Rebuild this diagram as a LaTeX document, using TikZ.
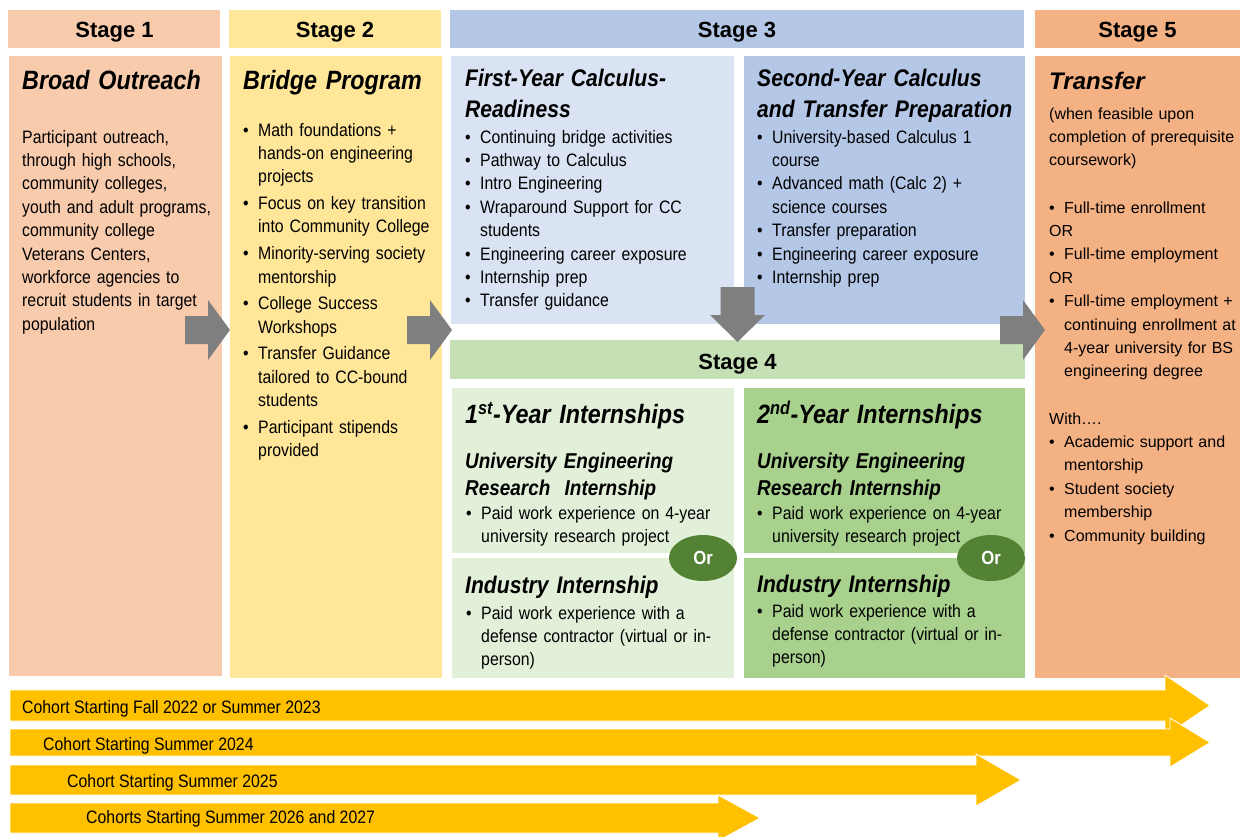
\documentclass[tikz,border=0pt]{standalone}
\usepackage{fontspec}
\setmainfont{Liberation Sans}
\newfontfamily\narrowsans[FakeStretch=0.88]{Liberation Sans}
\usetikzlibrary{shapes.geometric}

\definecolor{outreach}{HTML}{F8CBAD}
\definecolor{bridge}{HTML}{FFE699}
\definecolor{calcdark}{HTML}{B4C7E7}
\definecolor{calclight}{HTML}{DAE3F3}
\definecolor{internhead}{HTML}{C5E0B4}
\definecolor{internlight}{HTML}{E2F0D9}
\definecolor{interndark}{HTML}{A9D18E}
\definecolor{transfer}{HTML}{F4B183}
\definecolor{orgreen}{HTML}{548235}
\definecolor{flowgray}{HTML}{7F7F7F}
\definecolor{cohort}{HTML}{FFC000}

% bullet item, one paragraph with hanging lines
\newcommand\bul[2][15bp]{{\let\\\newline\hangindent=#1\relax\hangafter=1\relax
  \noindent\makebox[#1][l]{\textbullet}#2\par}}

\tikzset{
  panel/.style={anchor=north west, inner sep=0pt, outer sep=0pt},
  stagelabel/.style={anchor=base, inner sep=0pt,
    font=\fontsize{22bp}{26bp}\selectfont\bfseries},
  bigtitle/.style={anchor=base west, inner sep=0pt, align=left, text width=#1,
    font=\narrowsans\fontsize{26.5bp}{31bp}\selectfont\bfseries\itshape},
  bigtitle/.default=220bp,
  midtitle/.style={anchor=base west, inner sep=0pt, align=left, text width=#1,
    font=\narrowsans\fontsize{24bp}{31bp}\selectfont\bfseries\itshape},
  midtitle/.default=265bp,
  subtitle/.style={anchor=base west, inner sep=0pt, align=left, text width=#1,
    font=\narrowsans\fontsize{21.5bp}{27bp}\selectfont\bfseries\itshape},
  subtitle/.default=265bp,
  bodytext/.style={anchor=base west, inner sep=0pt, align=left, text width=#1,
    font=\narrowsans\fontsize{18bp}{23.4bp}\selectfont},
  bodytext/.default=260bp,
  itemgap/.style={execute at begin node={\setlength{\parskip}{#1}}},
  fivetext/.style={anchor=base west, inner sep=0pt, align=left, text width=195bp,
    font=\fontsize{16bp}{23.4bp}\selectfont},
  fivetitle/.style={anchor=base west, inner sep=0pt,
    font=\fontsize{24bp}{28bp}\selectfont\bfseries\itshape},
  cohortlabel/.style={anchor=base west, inner sep=0pt,
    font=\narrowsans\fontsize{18bp}{22bp}\selectfont},
  orbadge/.style={ellipse, fill=orgreen, text=white, inner sep=0pt,
    minimum width=68bp, minimum height=46bp,
    font=\narrowsans\fontsize{19bp}{22bp}\selectfont\bfseries},
  cohortbar/.style={fill=cohort, draw=white, line width=0.8bp},
  flowright/.pic={\fill[flowgray] (0,0) -- (-22,-30) -- (-22,-14) -- (-45,-14)
    -- (-45,14) -- (-22,14) -- (-22,30) -- cycle;},
  flowdown/.pic={\fill[flowgray] (0,0) -- (-27.5,-27) -- (-17,-27) -- (-17,-55)
    -- (17,-55) -- (17,-27) -- (27.5,-27) -- cycle;}
}

\begin{document}
\begin{tikzpicture}[x=1bp, y=-1bp]

	\path[use as bounding box, fill=white] (0,0) rectangle (1243,837);

	% stage panels
	\node[panel, fill=outreach, minimum width=212bp, minimum height=38bp] (s1head) at (8,10) {};
	\node[panel, fill=outreach, minimum width=213bp, minimum height=620bp] (s1body) at (9,56) {};
	\node[panel, fill=bridge, minimum width=212bp, minimum height=38bp] (s2head) at (229,10) {};
	\node[panel, fill=bridge, minimum width=212bp, minimum height=622bp] (s2body) at (230,56) {};
	\node[panel, fill=calcdark, minimum width=574bp, minimum height=38bp] (s3head) at (450,10) {};
	\node[panel, fill=calclight, minimum width=283bp, minimum height=268bp] (s3a) at (451,56) {};
	\node[panel, fill=calcdark, minimum width=281bp, minimum height=268bp] (s3b) at (744,56) {};
	\node[panel, fill=internhead, minimum width=575bp, minimum height=39bp] (s4head) at (450,340) {};
	\node[panel, fill=internlight, minimum width=282bp, minimum height=165bp] (s4a) at (452,388) {};
	\node[panel, fill=internlight, minimum width=282bp, minimum height=120bp] (s4b) at (452,558) {};
	\node[panel, fill=interndark, minimum width=281bp, minimum height=165bp] (s4c) at (744,388) {};
	\node[panel, fill=interndark, minimum width=281bp, minimum height=120bp] (s4d) at (744,558) {};
	\node[panel, fill=transfer, minimum width=205bp, minimum height=38bp] (s5head) at (1035,10) {};
	\node[panel, fill=transfer, minimum width=205bp, minimum height=622bp] (s5body) at (1035,56) {};

	% stage labels
	\node[stagelabel] (s1lab) at (114.5,37) {Stage 1};
	\node[stagelabel] (s2lab) at (335,37) {Stage 2};
	\node[stagelabel] (s3lab) at (737,37) {Stage 3};
	\node[stagelabel] (s4lab) at (737.5,369) {Stage 4};
	\node[stagelabel] (s5lab) at (1137.5,37) {Stage 5};

	% flow between stages
	\pic at (s2body.west |- 0,330) {flowright};
	\pic at (452,330) {flowright};
	\pic at ([xshift=10bp]s5body.west |- 0,330) {flowright};
	\pic at ([yshift=-2bp]s4head.north) {flowdown};

	% stage 1
	\node[bigtitle] (s1title) at (22,89) {Broad Outreach};
	\node[bodytext=195bp] (s1text) at (22,143) {Participant outreach,\\
		through high schools,\\ community colleges,\\ youth and adult programs,\\
		community college\\ Veterans Centers,\\ workforce agencies to\\
		recruit students in target\\ population};

	% stage 2
	\node[bigtitle] (s2title) at (243,89) {Bridge Program};
	\node[bodytext=195bp, itemgap=3.3bp] (s2list) at (243,136) {%
		\bul{Math foundations +\\hands-on engineering\\projects}
		\bul{Focus on key transition\\into Community College}
		\bul{Minority-serving society\\mentorship}
		\bul{College Success\\Workshops}
		\bul{Transfer Guidance\\tailored to CC-bound\\students}
		\bul{Participant stipends\\provided}};

	% stage 3
	\node[midtitle] (s3atitle) at (465,86) {First-Year Calculus-\\Readiness};
	\node[bodytext] (s3alist) at (465,143) {%
		\bul{Continuing bridge activities}
		\bul{Pathway to Calculus}
		\bul{Intro Engineering}
		\bul{Wraparound Support for CC\\students}
		\bul{Engineering career exposure}
		\bul{Internship prep}
		\bul{Transfer guidance}};
	\node[midtitle] (s3btitle) at (757,86) {Second-Year Calculus\\and Transfer Preparation};
	\node[bodytext] (s3blist) at (757,143) {%
		\bul{University-based Calculus 1\\course}
		\bul{Advanced math (Calc 2) +\\science courses}
		\bul{Transfer preparation}
		\bul{Engineering career exposure}
		\bul{Internship prep}};

	% stage 4
	\node[bigtitle=265bp] (s4atitle) at (465,423) {1\textsuperscript{st}-Year Internships};
	\node[subtitle] (s4asub) at (465,468) {University Engineering\\Research\ \ Internship};
	\node[bodytext] (s4alist) at (466,519) {%
		\bul{Paid work experience on 4-year\\university research project}};
	\node[midtitle] (s4btitle) at (465,593) {Industry Internship};
	\node[bodytext] (s4blist) at (466,619) {%
		\bul{Paid work experience with a\\defense contractor (virtual or in-\\person)}};
	\node[bigtitle=265bp] (s4ctitle) at (757,423) {2\textsuperscript{nd}-Year Internships};
	\node[subtitle] (s4csub) at (757,468) {University Engineering\\Research Internship};
	\node[bodytext] (s4clist) at (757,519) {%
		\bul{Paid work experience on 4-year\\university research project}};
	\node[midtitle] (s4dtitle) at (757,592) {Industry Internship};
	\node[bodytext] (s4dlist) at (757,617) {%
		\bul{Paid work experience with a\\defense contractor (virtual or in-\\person)}};

	\node[orbadge] (or1) at (703,558) {Or};
	\node[orbadge] (or2) at (991,558) {Or};

	% stage 5
	\node[fivetitle] (s5title) at (1049,89) {Transfer};
	\node[fivetext] (s5note) at (1049,119) {(when feasible upon\\
		completion of prerequisite\\ coursework)};
	\node[fivetext] (s5paths) at (1049,213) {%
		\bul{Full-time enrollment}
		OR\par
		\bul{Full-time employment}
		OR\par
		\bul{Full-time employment +\\continuing enrollment at\\4-year university for BS\\engineering degree}};
	\node[fivetext] (s5with) at (1049,424) {With….\par
		\bul{Academic support and\\mentorship}
		\bul{Student society\\membership}
		\bul{Community building}};

	% cohorts
	\fill[cohortbar] (10,690) -- (1165,690) -- (1165,675) -- (1210,705.5)
		-- (1165,736) -- (1165,721) -- (10,721) -- cycle;
	\fill[cohortbar] (10,729) -- (1170,729) -- (1170,718) -- (1210,742.5)
		-- (1170,767) -- (1170,756) -- (10,756) -- cycle;
	\fill[cohortbar] (10,765) -- (976,765) -- (976,754) -- (1021,780)
		-- (976,806) -- (976,795) -- (10,795) -- cycle;
	\fill[cohortbar] (10,803) -- (718,803) -- (718,795) -- (760,818)
		-- (718,841) -- (718,833) -- (10,833) -- cycle;

	\node[cohortlabel] (c1) at (22,713) {Cohort Starting Fall 2022 or Summer 2023};
	\node[cohortlabel] (c2) at (43,750) {Cohort Starting Summer 2024};
	\node[cohortlabel] (c3) at (67,787) {Cohort Starting Summer 2025};
	\node[cohortlabel] (c4) at (86,823) {Cohorts Starting Summer 2026 and 2027};

\end{tikzpicture}
\end{document}
